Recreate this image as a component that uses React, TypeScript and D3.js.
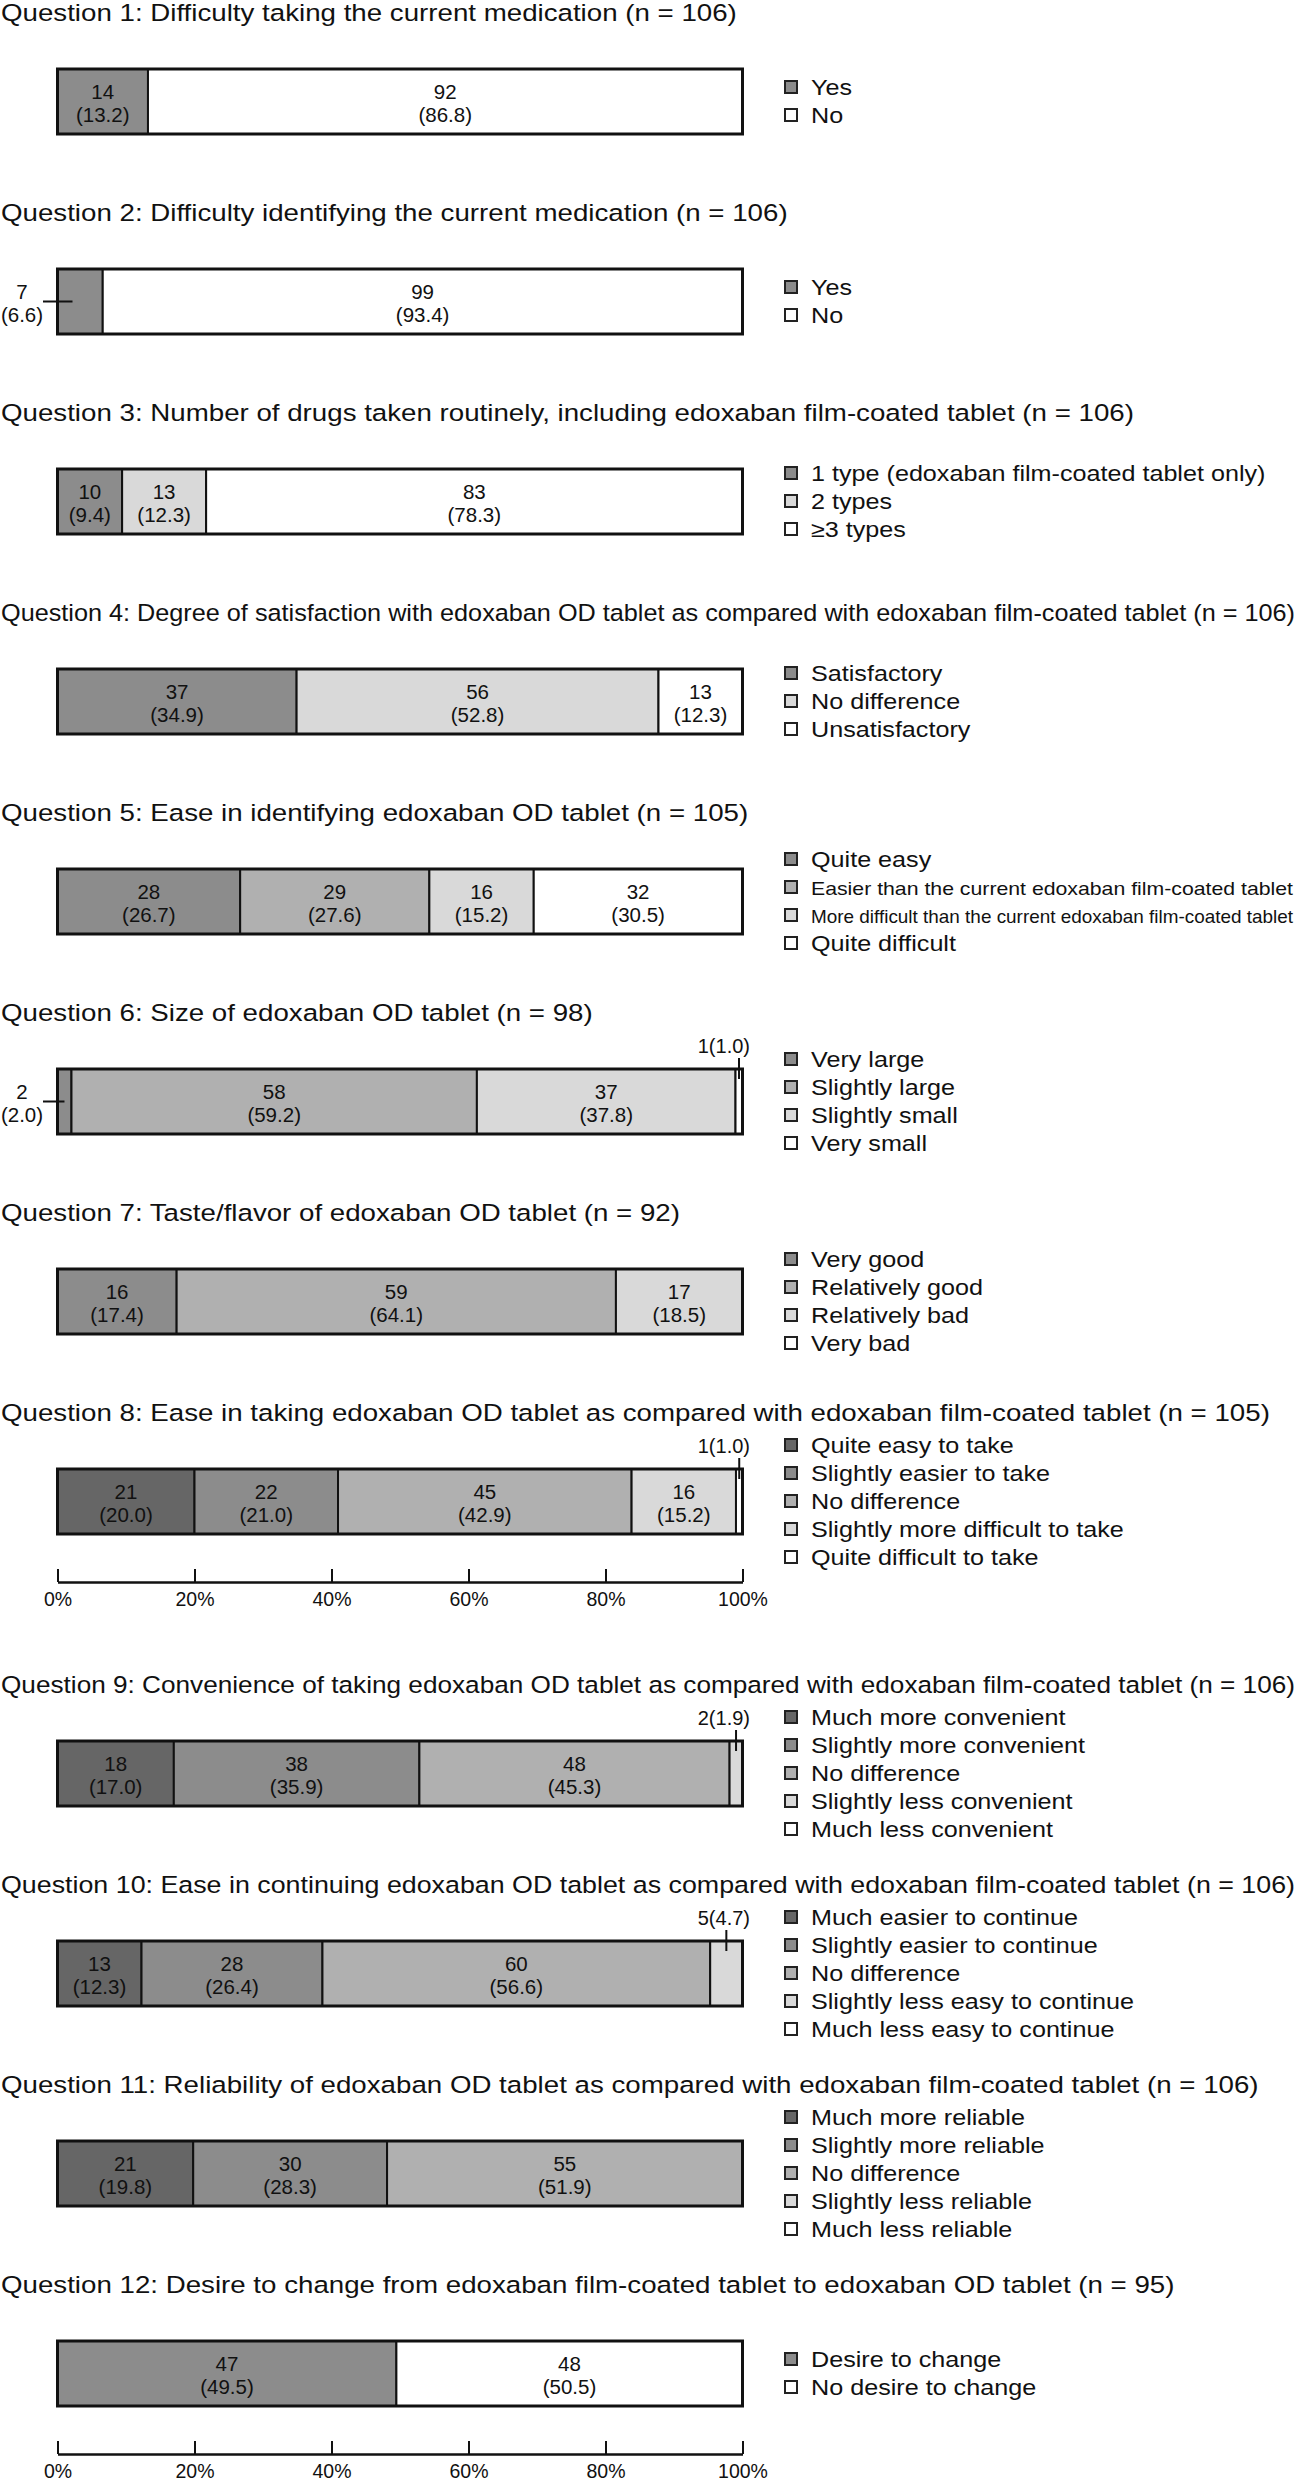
import React, { useEffect, useLayoutEffect, useRef } from 'react';
import * as d3 from 'd3';

// survey questions, top to bottom
const questionTitles = [
  'Question 1: Difficulty taking the current medication (n = 106)',
  'Question 2: Difficulty identifying the current medication (n = 106)',
  'Question 3: Number of drugs taken routinely, including edoxaban film-coated tablet (n = 106)',
  'Question 4: Degree of satisfaction with edoxaban OD tablet as compared with edoxaban film-coated tablet (n = 106)',
  'Question 5: Ease in identifying edoxaban OD tablet (n = 105)',
  'Question 6: Size of edoxaban OD tablet (n = 98)',
  'Question 7: Taste/flavor of edoxaban OD tablet (n = 92)',
  'Question 8: Ease in taking edoxaban OD tablet as compared with edoxaban film-coated tablet (n = 105)',
  'Question 9: Convenience of taking edoxaban OD tablet as compared with edoxaban film-coated tablet (n = 106)',
  'Question 10: Ease in continuing edoxaban OD tablet as compared with edoxaban film-coated tablet (n = 106)',
  'Question 11: Reliability of edoxaban OD tablet as compared with edoxaban film-coated tablet (n = 106)',
  'Question 12: Desire to change from edoxaban film-coated tablet to edoxaban OD tablet (n = 95)',
];

const responseLabels = [
  ['Yes', 'No'],
  ['Yes', 'No'],
  ['1 type (edoxaban film-coated tablet only)', '2 types', '\u22653 types'],
  ['Satisfactory', 'No difference', 'Unsatisfactory'],
  ['Quite easy', 'Easier than the current edoxaban film-coated tablet', 'More difficult than the current edoxaban film-coated tablet', 'Quite difficult'],
  ['Very large', 'Slightly large', 'Slightly small', 'Very small'],
  ['Very good', 'Relatively good', 'Relatively bad', 'Very bad'],
  ['Quite easy to take', 'Slightly easier to take', 'No difference', 'Slightly more difficult to take', 'Quite difficult to take'],
  ['Much more convenient', 'Slightly more convenient', 'No difference', 'Slightly less convenient', 'Much less convenient'],
  ['Much easier to continue', 'Slightly easier to continue', 'No difference', 'Slightly less easy to continue', 'Much less easy to continue'],
  ['Much more reliable', 'Slightly more reliable', 'No difference', 'Slightly less reliable', 'Much less reliable'],
  ['Desire to change', 'No desire to change'],
];

const responseCounts = [
  [14, 92],
  [7, 99],
  [10, 13, 83],
  [37, 56, 13],
  [28, 29, 16, 32],
  [2, 58, 37, 1],
  [16, 59, 17, 0],
  [21, 22, 45, 16, 1],
  [18, 38, 48, 2, 0],
  [13, 28, 60, 5, 0],
  [21, 30, 55, 0, 0],
  [47, 48],
];

const responsePercents = [
  [13.2, 86.8],
  [6.6, 93.4],
  [9.4, 12.3, 78.3],
  [34.9, 52.8, 12.3],
  [26.7, 27.6, 15.2, 30.5],
  [2.0, 59.2, 37.8, 1.0],
  [17.4, 64.1, 18.5, 0],
  [20.0, 21.0, 42.9, 15.2, 1.0],
  [17.0, 35.9, 45.3, 1.9, 0],
  [12.3, 26.4, 56.6, 4.7, 0],
  [19.8, 28.3, 51.9, 0, 0],
  [49.5, 50.5],
];

// grey level (0 = darkest, 4 = white) of each response
const shadeLevels = [
  [1, 4],
  [1, 4],
  [1, 3, 4],
  [1, 3, 4],
  [1, 2, 3, 4],
  [1, 2, 3, 4],
  [1, 2, 3, 4],
  [0, 1, 2, 3, 4],
  [0, 1, 2, 3, 4],
  [0, 1, 2, 3, 4],
  [0, 1, 2, 3, 4],
  [1, 4],
];

const axisAfter = [8, 12];
const axisTicks = [0, 20, 40, 60, 80, 100];

const shades = ['#666666', '#8c8c8c', '#b0b0b0', '#d9d9d9', '#ffffff'];
const FONT = '"Liberation Sans", Arial, Helvetica, sans-serif';
const W = 1298;
const H = 2481;
const X0 = 57.5;
const X1 = 742.5;
const BAR_H = 65;
const INK = '#111';

function PercentAxis({ y }: { y: number }) {
  const ref = useRef<SVGGElement>(null);
  useEffect(() => {
    const scale = d3.scaleLinear().domain([0, 100]).range([X0, X1]);
    const axis = d3.axisBottom(scale)
      .tickValues(axisTicks)
      .tickFormat((d) => d + '%')
      .tickSizeInner(-13)
      .tickSizeOuter(0)
      .tickPadding(10.5);
    const g = d3.select(ref.current!).call(axis as any);
    g.attr('font-size', null).attr('font-family', null);
    g.select('.domain').attr('stroke', INK).attr('stroke-width', 2.5);
    g.selectAll('.tick line').attr('stroke', INK).attr('stroke-width', 2);
    g.selectAll('.tick text')
      .attr('fill', INK)
      .attr('font-size', 19.5)
      .attr('font-family', FONT);
  }, [y]);
  return <g ref={ref} transform={`translate(0,${y})`} />;
}

function Question({ idx, top }: { idx: number; top: number }) {
  const counts = responseCounts[idx];
  const pcts = responsePercents[idx];
  const labels = responseLabels[idx];
  const levels = shadeLevels[idx];
  const x = d3.scaleLinear().domain([0, d3.sum(counts)]).range([X0, X1]);
  const ends = Array.from(d3.cumsum(counts));
  const starts = ends.map((e, i) => e - counts[i]);
  const cy = top + BAR_H / 2;
  const legendY0 = cy - ((labels.length - 1) * 28) / 2;

  return (
    <g>
      <text
        className="fit"
        data-sx="1.13"
        data-max="1294"
        data-size="24.5"
        x={1}
        y={top - 48}
        fontSize={24.5}
      >
        {questionTitles[idx]}
      </text>

      {counts.map((c, i) =>
        c > 0 ? (
          <rect
            key={'s' + i}
            x={x(starts[i])}
            y={top}
            width={x(ends[i]) - x(starts[i])}
            height={BAR_H}
            fill={shades[levels[i]]}
            stroke={INK}
            strokeWidth={2}
          />
        ) : null
      )}
      <rect x={X0} y={top} width={X1 - X0} height={BAR_H} fill="none" stroke={INK} strokeWidth={3} />

      {counts.map((c, i) => {
        if (c === 0) return null;
        const p = pcts[i];
        const x0 = x(starts[i]);
        const mid = (x(starts[i]) + x(ends[i])) / 2;
        if (p >= 8) {
          return (
            <text key={'l' + i} textAnchor="middle" fontSize={20.5}>
              <tspan x={mid} y={top + 29.5}>{c}</tspan>
              <tspan x={mid} y={top + 52.5}>({p.toFixed(1)})</tspan>
            </text>
          );
        }
        if (i === 0) {
          return (
            <g key={'l' + i}>
              <text textAnchor="middle" fontSize={20.5}>
                <tspan x={22} y={top + 29.5}>{c}</tspan>
                <tspan x={22} y={top + 52.5}>({p.toFixed(1)})</tspan>
              </text>
              <line x1={43} x2={Math.min(mid, x0 + 15)} y1={cy} y2={cy} stroke={INK} strokeWidth={2} />
            </g>
          );
        }
        return (
          <g key={'l' + i}>
            <text x={750} y={top - 16} textAnchor="end" fontSize={20}>
              {c}({p.toFixed(1)})
            </text>
            <line x1={mid} x2={mid} y1={top - 11} y2={top + 10} stroke={INK} strokeWidth={2} />
          </g>
        );
      })}

      {labels.map((lab, i) => {
        const ry = legendY0 + i * 28;
        return (
          <g key={'g' + i}>
            <rect x={785} y={ry - 6.5} width={12} height={12} fill={shades[levels[i]]} stroke="#222" strokeWidth={2} />
            <text
              className="fit"
              data-sx="1.17"
              data-max="482"
              data-size="21.5"
              data-alt="18.5"
              x={811}
              y={ry + 7.6}
              fontSize={21.5}
            >
              {lab}
            </text>
          </g>
        );
      })}
    </g>
  );
}

export default function App() {
  const svgRef = useRef<SVGSVGElement>(null);

  const tops: number[] = [];
  const axisYs: number[] = [];
  let y = 69;
  questionTitles.forEach((_, i) => {
    tops.push(y);
    if (axisAfter.includes(i + 1)) {
      axisYs.push(y + BAR_H + 48);
      y += 72;
    }
    y += 200;
  });

  // the figure's text is set wider than the font; squeeze lines that would overflow
  useLayoutEffect(() => {
    d3.select(svgRef.current!)
      .selectAll<SVGTextElement, unknown>('text.fit')
      .each(function () {
        const el = this;
        el.removeAttribute('textLength');
        el.setAttribute('font-size', el.getAttribute('data-size')!);
        const sx = +el.getAttribute('data-sx')!;
        const max = +el.getAttribute('data-max')!;
        const alt = el.getAttribute('data-alt');
        let target = el.getComputedTextLength() * sx;
        if (target > max) {
          if (alt) el.setAttribute('font-size', alt);
          target = max;
        }
        el.setAttribute('textLength', String(target));
        el.setAttribute('lengthAdjust', 'spacingAndGlyphs');
      });
  }, []);

  return (
    <svg
      ref={svgRef}
      width={W}
      height={H}
      viewBox={`0 0 ${W} ${H}`}
      style={{ position: 'absolute', left: 0, top: 0, background: '#fff' }}
      fontFamily={FONT}
      fill={INK}
    >
      <rect width={W} height={H} fill="#fff" />
      {questionTitles.map((_, i) => (
        <Question key={i} idx={i} top={tops[i]} />
      ))}
      {axisYs.map((ay) => (
        <PercentAxis key={ay} y={ay} />
      ))}
    </svg>
  );
}
